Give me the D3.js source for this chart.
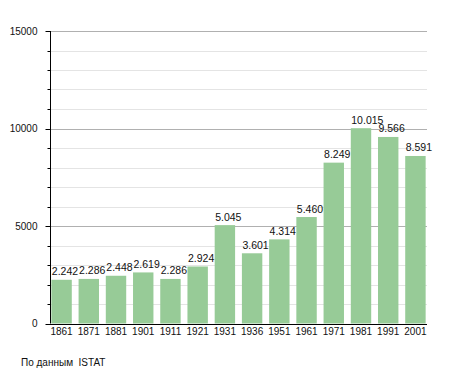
<!DOCTYPE html>
<html><head><meta charset="utf-8">
<script src="https://cdn.jsdelivr.net/npm/d3@7"></script>
<style>body{margin:0;background:#fff}svg{display:block;font-family:"Liberation Sans",Arial,sans-serif}</style>
</head><body><svg id="c" width="455" height="373"></svg>
<script>
const years = ["1861","1871","1881","1901","1911","1921","1931","1936","1951","1961","1971","1981","1991","2001"];
const population = [2242,2286,2448,2619,2286,2924,5045,3601,4314,5460,8249,10015,9566,8591];
const majorTicks = [0,5000,10000,15000];
const minorTicks = [1000,2000,3000,4000,6000,7000,8000,9000,11000,12000,13000,14000];
const source = "По данным  ISTAT";

const svg = d3.select("#c");
const x = d3.scaleBand().domain(years).range([50,427]).paddingInner(0.25).paddingOuter(0.05);
const y = d3.scaleLinear().domain([0,15000]).range([323.5,31]);
const fmt = v => d3.format(",")(v).replace(/,/g,".");

// gridlines
svg.append("g").selectAll("line").data(minorTicks).join("line")
  .attr("x1",50).attr("x2",427).attr("y1",d=>Math.round(y(d))+0.5).attr("y2",d=>Math.round(y(d))+0.5)
  .attr("stroke","#e4e4e4").attr("stroke-width",1);
svg.append("g").selectAll("line").data(majorTicks.filter(d=>d>0)).join("line")
  .attr("x1",50).attr("x2",427).attr("y1",d=>Math.round(y(d))+0.5).attr("y2",d=>Math.round(y(d))+0.5)
  .attr("stroke","#b0b0b0").attr("stroke-width",1);

// bars
svg.append("g").selectAll("rect").data(years).join("rect")
  .attr("x",(d)=>x(d)).attr("width",x.bandwidth())
  .attr("y",(d,i)=>y(population[i])).attr("height",(d,i)=>y(0)-y(population[i]))
  .attr("fill","#97cb97");

// value labels (left-aligned at bar start)
svg.append("g").selectAll("text").data(years).join("text")
  .attr("x",d=>x(d)+0.5).attr("y",(d,i)=>y(population[i])-4.5)
  .attr("font-size",10.5).attr("fill","#111")
  .text((d,i)=>fmt(population[i]));

// y axis
const ya = svg.append("g").attr("transform","translate(50.5,0)");
ya.append("line").attr("x1",0).attr("x2",0).attr("y1",y(15000)).attr("y2",y(0)).attr("stroke","#000");
ya.selectAll(".maj").data(majorTicks).join("line").attr("class","maj")
  .attr("x1",-5).attr("x2",0).attr("y1",d=>Math.round(y(d))+0.5).attr("y2",d=>Math.round(y(d))+0.5).attr("stroke","#000");
ya.selectAll(".min").data(minorTicks).join("line").attr("class","min")
  .attr("x1",-3).attr("x2",0).attr("y1",d=>Math.round(y(d))+0.5).attr("y2",d=>Math.round(y(d))+0.5).attr("stroke","#000");
ya.selectAll("text").data(majorTicks).join("text")
  .attr("x",-13).attr("y",d=>y(d)+3.5).attr("text-anchor","end").attr("font-size",10).attr("fill","#111")
  .text(d=>d);

// x axis
const xa = svg.append("g");
xa.append("line").attr("x1",50).attr("x2",427).attr("y1",Math.round(y(0))+0.5).attr("y2",Math.round(y(0))+0.5).attr("stroke","#000");
xa.selectAll("text").data(years).join("text")
  .attr("x",d=>x(d)+x.bandwidth()/2).attr("y",335).attr("text-anchor","middle").attr("font-size",10).attr("fill","#111")
  .text(d=>d);

svg.append("text").attr("x",21).attr("y",366).attr("font-size",10).attr("fill","#111")
  .attr("xml:space","preserve").style("white-space","pre").text(source);
</script></body></html>
